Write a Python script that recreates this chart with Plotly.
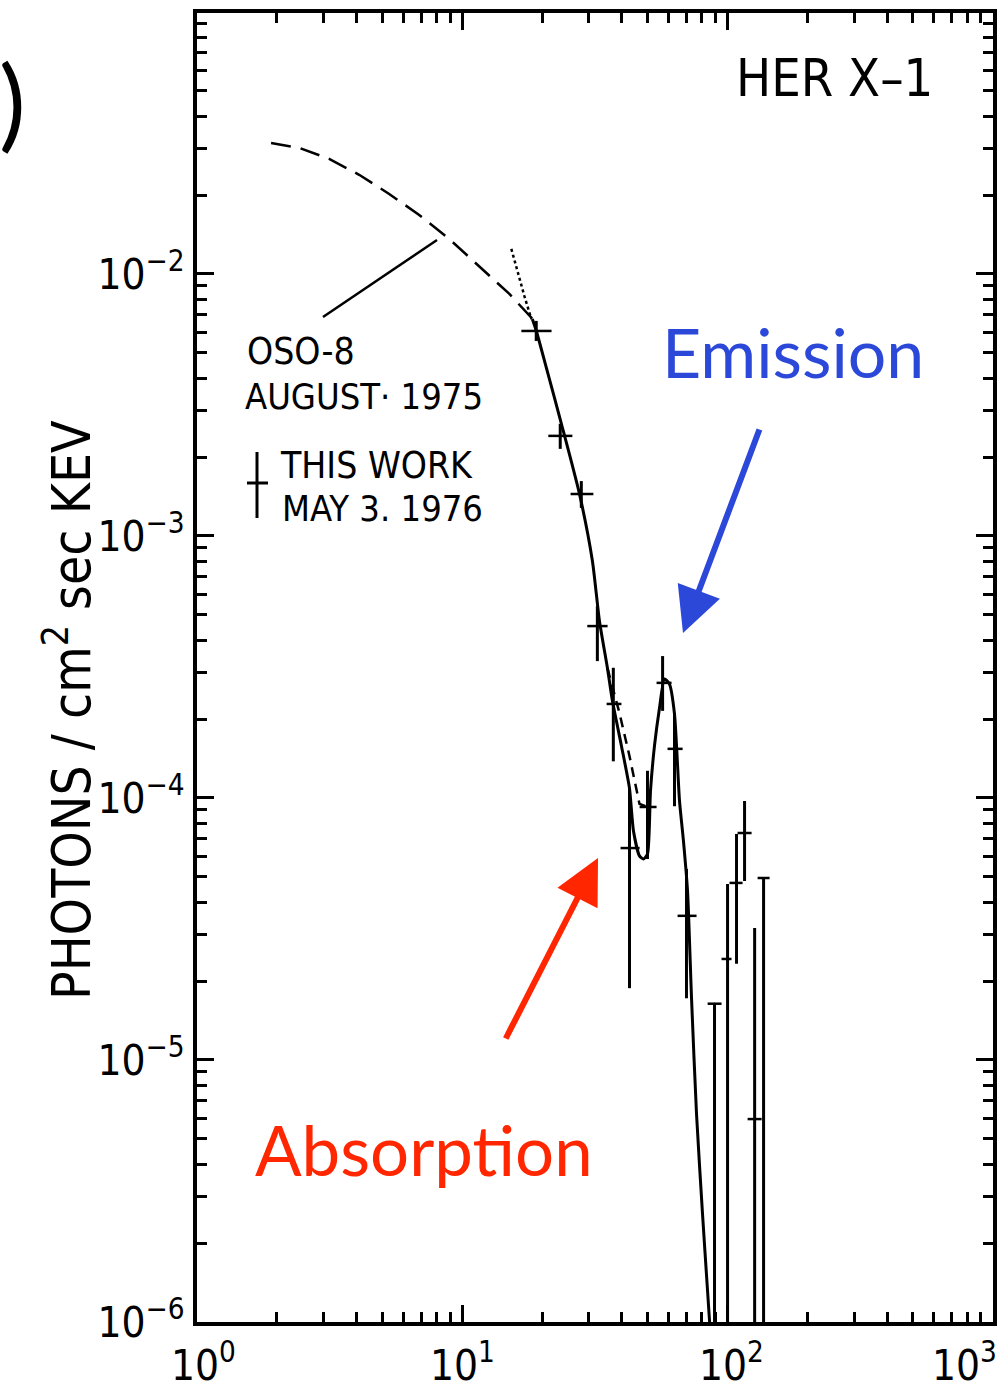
import math
import plotly.graph_objects as go

# ---------------- data (keV, photons / cm^2 s keV) ----------------
energy = [19.0, 23.4, 28.1, 32.3, 37.1, 42.7, 49.9, 56.9, 63.1, 70.0,
          89.3, 100.0, 108.1, 115.9, 126.5, 136.7]
energy_lo = [16.7, 21.1, 25.6, 29.6, 35.0, 39.5, 46.6, 54.0, 59.4, 64.8,
             84.1, 94.9, 101.7, 109.1, 119.0, 129.8]
energy_hi = [21.7, 26.0, 31.2, 35.3, 39.8, 46.6, 54.0, 61.5, 67.7, 76.4,
             94.9, 103.5, 113.9, 123.2, 134.4, 144.0]
flux = [6.06e-3, 2.41e-3, 1.446e-3, 4.53e-4, 2.285e-4, 6.44e-5, 9.24e-5, 2.75e-4,
        1.54e-4, 3.55e-5, 1.64e-5, 2.43e-5, 4.74e-5, 7.35e-5, 5.95e-6, 4.95e-5]
flux_lo = [5.55e-3, 2.15e-3, 1.28e-3, 3.33e-4, 1.38e-4, 1.88e-5, 5.85e-5, 2.15e-4,
           9.3e-5, 1.72e-5, 1e-6, 1e-6, 2.33e-5, 4.82e-5, 1e-6, 1e-6]
flux_hi = [6.62e-3, 2.68e-3, 1.62e-3, 5.40e-4, 3.14e-4, 1.09e-4, 1.27e-4, 3.48e-4,
           2.11e-4, 5.36e-5, 1.64e-5, 4.70e-5, 7.29e-5, 9.74e-5, 3.19e-5, 4.95e-5]

# model fit (solid)
fit_e = [18.37, 19.02, 20.75, 23.64, 27.64, 30.94, 32.89, 35.26, 36.81, 39.81,
         42.68, 44.19, 46.55, 48.2, 49.9, 51.22, 53.03, 55.39, 57.85, 60.4,
         63.1, 65.9, 68.2, 70.65, 73.14, 76.38, 80.47, 84.06, 87.0]
fit_f = [6.73e-3, 6.06e-3, 4.38e-3, 2.68e-3, 1.45e-3, 8.03e-4, 4.74e-4, 3.13e-4, 2.35e-4, 1.58e-4,
         1.09e-4, 7.48e-5, 6.01e-5, 5.85e-5, 6.11e-5, 1.063e-4, 1.58e-4, 2.205e-4, 2.845e-4, 2.72e-4,
         2.09e-4, 9.74e-5, 6.85e-5, 4.42e-5, 1.724e-5, 6.22e-6, 2.58e-6, 1.313e-6, 7.75e-7]

# OSO-8 spectrum (dashed)
oso_e = [1.902, 2.427, 3.15, 4.086, 5.303, 6.88, 8.93, 11.59, 15.05, 18.69]
oso_f = [3.16e-2, 3.03e-2, 2.75e-2, 2.39e-2, 2.02e-2, 1.68e-2, 1.36e-2, 1.073e-2, 8.39e-3, 6.62e-3]

# alternative fit without absorption (dashed)
alt_e = [35.26, 39.13, 42.68, 46.55, 49.9]
alt_f = [3.13e-4, 2.11e-4, 1.446e-4, 9.49e-5, 9.24e-5]

# dotted extrapolation
dot_e = [15.31, 16.13, 17.14, 18.21]
dot_f = [1.246e-2, 1.027e-2, 8.24e-3, 6.73e-3]

x_ticks = [1, 10, 100, 1000]
x_ticktext = ["10<sup>0</sup>", "10<sup>1</sup>", "10<sup>2</sup>", "10<sup>3</sup>"]
y_ticks = [1e-6, 1e-5, 1e-4, 1e-3, 1e-2]
y_ticktext = ["10<sup>−6</sup>", "10<sup>−5</sup>", "10<sup>−4</sup>", "10<sup>−3</sup>", "10<sup>−2</sup>"]

# ---------------- layout geometry ----------------
W, H = 1006, 1393
L, R, T, B = 197, 13, 13, 71
PW, PH = W - L - R, H - T - B


def px(x):
    return (x - L) / PW


def py(y):
    return (H - B - y) / PH


FONT = "DejaVu Sans Condensed, Liberation Sans Narrow, Liberation Sans, sans-serif"
TICKFONT = dict(family=FONT, size=42, color="black")

fig = go.Figure()

fig.add_trace(go.Scatter(x=oso_e, y=oso_f, mode="lines",
                         line=dict(color="black", width=2.5, dash="20px,10px"), hoverinfo="skip"))
fig.add_trace(go.Scatter(x=dot_e, y=dot_f, mode="lines",
                         line=dict(color="black", width=2.5, dash="dot"), hoverinfo="skip"))
fig.add_trace(go.Scatter(x=alt_e, y=alt_f, mode="lines",
                         line=dict(color="black", width=2.5, dash="10px,7px"), hoverinfo="skip"))
fig.add_trace(go.Scatter(x=fit_e, y=fit_f, mode="lines", line_shape="spline",
                         line=dict(color="black", width=3, smoothing=0.6), hoverinfo="skip"))

fig.add_trace(go.Scatter(
    x=energy, y=flux, mode="markers",
    marker=dict(size=2, color="black"),
    error_x=dict(type="data", symmetric=False,
                 array=[h - e for h, e in zip(energy_hi, energy)],
                 arrayminus=[e - l for e, l in zip(energy, energy_lo)],
                 color="black", thickness=2.5, width=0),
    error_y=dict(type="data", symmetric=False,
                 array=[h - f for h, f in zip(flux_hi, flux)],
                 arrayminus=[f - l for f, l in zip(flux, flux_lo)],
                 color="black", thickness=3, width=0),
))

axis_common = dict(showline=True, linewidth=4, linecolor="black", mirror="ticks",
                   ticks="inside", ticklen=17, tickwidth=3, tickcolor="black",
                   showgrid=False, zeroline=False, tickfont=TICKFONT, automargin=False)

x_minor = [m * 10 ** k for k in range(3) for m in range(2, 10)]
y_minor = [m * 10.0 ** k for k in range(-6, -1) for m in range(2, 10)]

# x tick labels are drawn as annotations below (the last one sits at the page edge)
fig.update_xaxes(type="log", range=[0, 3.0006], tickmode="array", tickvals=x_ticks,
                 ticktext=["" for _ in x_ticks],
                 minor=dict(tickmode="array", tickvals=x_minor, ticks="inside", ticklen=10,
                            tickwidth=2.5, tickcolor="black", showgrid=False),
                 **axis_common)
fig.update_yaxes(type="log", range=[-6, -1.004], tickmode="array", tickvals=y_ticks, ticktext=y_ticktext,
                 minor=dict(tickmode="array", tickvals=y_minor, ticks="inside", ticklen=10,
                            tickwidth=2.5, tickcolor="black", showgrid=False),
                 **axis_common)

ann = []
x_label_shift = [6, 0, 4, 6]
for i, (v, t) in enumerate(zip(x_ticks, x_ticktext)):
    last = i == len(x_ticks) - 1
    ann.append(dict(x=1.0 if last else math.log10(v), xref="paper" if last else "x",
                    y=0, yref="paper", text=t, showarrow=False,
                    xanchor="right" if last else "center", yanchor="top",
                    xshift=x_label_shift[i], yshift=-11, font=TICKFONT))
ann.append(dict(x=px(734), y=py(78), xref="paper", yref="paper", text="HER X–1",
                showarrow=False, xanchor="left", yanchor="middle",
                font=dict(family=FONT, size=52, color="black")))
ann.append(dict(x=px(245), y=py(351), xref="paper", yref="paper", text="OSO-8",
                showarrow=False, xanchor="left", yanchor="middle",
                font=dict(family=FONT, size=37, color="black")))
ann.append(dict(x=px(243), y=py(396), xref="paper", yref="paper", text="AUGUST· 1975",
                showarrow=False, xanchor="left", yanchor="middle",
                font=dict(family=FONT, size=36, color="black")))
ann.append(dict(x=px(278), y=py(466), xref="paper", yref="paper", text="THIS WORK",
                showarrow=False, xanchor="left", yanchor="middle",
                font=dict(family=FONT, size=37, color="black")))
ann.append(dict(x=px(280), y=py(508), xref="paper", yref="paper", text="MAY 3. 1976",
                showarrow=False, xanchor="left", yanchor="middle",
                font=dict(family=FONT, size=36, color="black")))
ann.append(dict(x=px(68), y=py(710), xref="paper", yref="paper",
                text="PHOTONS / cm<sup>2</sup> sec KEV", textangle=-90,
                showarrow=False, xanchor="center", yanchor="middle",
                font=dict(family=FONT, size=53, color="black")))
ann.append(dict(x=px(12), y=py(100), xref="paper", yref="paper", text=")",
                showarrow=False, xanchor="center", yanchor="middle",
                font=dict(family="Lato, sans-serif", size=100, color="black")))
ann.append(dict(x=px(660), y=py(351), xref="paper", yref="paper", text="Emission",
                showarrow=False, xanchor="left", yanchor="middle",
                font=dict(family="Lato, sans-serif", size=68, color="rgb(43,72,217)")))
ann.append(dict(x=px(253), y=py(1149), xref="paper", yref="paper", text="Absorption",
                showarrow=False, xanchor="left", yanchor="middle",
                font=dict(family="Lato, sans-serif", size=69, color="rgb(255,38,0)")))
# arrows
ann.append(dict(x=px(683), y=py(633), xref="paper", yref="paper", text="",
                showarrow=True, axref="pixel", ayref="pixel", ax=77, ay=-205,
                arrowhead=2, arrowsize=1.5, arrowwidth=6, arrowcolor="rgb(43,72,217)",
                standoff=0, startstandoff=0))
ann.append(dict(x=px(598), y=py(858), xref="paper", yref="paper", text="",
                showarrow=True, axref="pixel", ayref="pixel", ax=-93, ay=182,
                arrowhead=2, arrowsize=1.5, arrowwidth=6, arrowcolor="rgb(255,38,0)",
                standoff=0, startstandoff=0))

shapes = [
    # pointer line from OSO-8 label
    dict(type="line", xref="paper", yref="paper", x0=px(323), y0=py(317), x1=px(437), y1=py(240),
         line=dict(color="black", width=2.5)),
    # legend cross
    dict(type="line", xref="paper", yref="paper", x0=px(257), y0=py(452), x1=px(257), y1=py(518),
         line=dict(color="black", width=3)),
    dict(type="line", xref="paper", yref="paper", x0=px(247), y0=py(483), x1=px(268), y1=py(483),
         line=dict(color="black", width=3)),
]

fig.update_layout(width=W, height=H, margin=dict(l=L, r=R, t=T, b=B),
                  paper_bgcolor="white", plot_bgcolor="white", showlegend=False,
                  annotations=ann, shapes=shapes)

fig.write_html("out.html")
